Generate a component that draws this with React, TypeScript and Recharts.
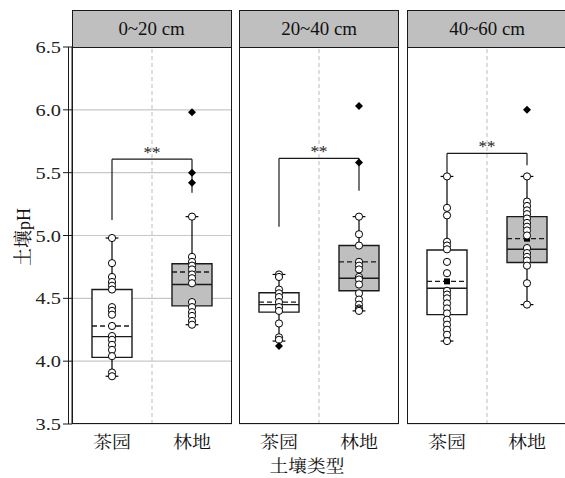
import React from 'react';
import { ComposedChart, XAxis, YAxis, CartesianGrid, Scatter, ReferenceArea, ReferenceLine } from 'recharts';

const FONT = "'Liberation Serif', 'Times New Roman', 'Noto Serif CJK SC', 'Noto Sans CJK SC', serif";

// ---- data ----
const depths = ['0~20 cm', '20~40 cm', '40~60 cm'];
const categories = ['茶园', '林地'];
const yTicks = [3.5, 4.0, 4.5, 5.0, 5.5, 6.0, 6.5];

// box statistics per depth: [茶园, 林地]
const whiskerLow = [[3.88, 4.29], [4.16, 4.40], [4.16, 4.45]];
const q1s = [[4.03, 4.44], [4.39, 4.56], [4.37, 4.785]];
const medians = [[4.195, 4.61], [4.45, 4.66], [4.58, 4.89]];
const q3s = [[4.57, 4.775], [4.545, 4.92], [4.885, 5.15]];
const whiskerHigh = [[4.98, 5.15], [4.69, 5.15], [5.47, 5.47]];
const means = [[4.28, 4.71], [4.47, 4.79], [4.635, 4.975]];

const teaPoints = [
  [4.98, 4.78, 4.67, 4.63, 4.60, 4.57, 4.43, 4.40, 4.37, 4.28, 4.20, 4.17, 4.13, 4.09, 4.04, 3.91, 3.88],
  [4.69, 4.67, 4.57, 4.54, 4.51, 4.47, 4.43, 4.40, 4.30, 4.19, 4.17],
  [5.47, 5.22, 5.16, 4.95, 4.92, 4.89, 4.79, 4.70, 4.56, 4.53, 4.50, 4.46, 4.42, 4.38, 4.33, 4.29, 4.25, 4.21, 4.16],
];
const forestPoints = [
  [5.15, 4.83, 4.79, 4.76, 4.73, 4.69, 4.66, 4.62, 4.47, 4.43, 4.39, 4.36, 4.32, 4.29],
  [5.15, 5.01, 4.92, 4.79, 4.76, 4.73, 4.67, 4.65, 4.61, 4.54, 4.49, 4.45, 4.42, 4.41, 4.40],
  [5.47, 5.27, 5.235, 5.20, 5.17, 5.135, 5.10, 5.07, 5.04, 5.00, 4.90, 4.86, 4.83, 4.80, 4.76, 4.62, 4.45],
];
const teaOutliers = [[], [4.12], []];
const forestOutliers = [[5.98, 5.50, 5.42], [6.03, 5.58], [6.00]];

const bracketTop = [5.607, 5.614, 5.654];
const bracketLeftEnd = [5.124, 5.07, 5.495];
const bracketRightEnd = [5.34, 5.357, 5.56];
const sigLabels = ['**', '**', '**'];

// ---- layout ----
const W = 565;
const H = 478;
const PANEL_LEFT = [72, 239, 407];
const PANEL_W = 160;
const PLOT_TOP = 47;
const PLOT_BOTTOM = 424;
const STRIP_TOP = 10;
const X_AXIS_H = 30;

const BOX_FILLS = ['#ffffff', '#bfbfbf'];

const CircleShape = (p: any) => (
  <circle cx={p.cx} cy={p.cy} r={3.6} fill="#ffffff" stroke="#000000" strokeWidth={1} />
);
const DiamondShape = (p: any) => {
  const s = 4;
  return (
    <polygon
      points={`${p.cx},${p.cy - s} ${p.cx + s},${p.cy} ${p.cx},${p.cy + s} ${p.cx - s},${p.cy}`}
      fill="#000000"
    />
  );
};
const SquareShape = (p: any) => (
  <rect x={p.cx - 3} y={p.cy - 3} width={6} height={6} fill="#000000" />
);
const SigShape = (p: any) => (
  <text x={p.cx} y={p.cy - 1} textAnchor="middle" fontSize={17} fontFamily={FONT} fill="#222">
    {p.payload.label}
  </text>
);

const YTick = (p: any) => (
  <text
    transform={`translate(${p.x},${p.y}) scale(1.2,1)`}
    textAnchor="end"
    dy="0.36em"
    fontSize={17}
    fontFamily={FONT}
    fill="#222"
  >
    {Number(p.payload.value).toFixed(1)}
  </text>
);

const XTick = (p: any) => (
  <text
    transform={`translate(${p.x},${p.y}) scale(1.12,1)`}
    textAnchor="middle"
    dy="0.95em"
    fontSize={17}
    fontFamily={FONT}
    fill="#111"
  >
    {categories[Math.round(p.payload.value) - 1]}
  </text>
);

function Panel({ idx }: { idx: number }) {
  const showY = idx === 0;
  const yW = showY ? 72 : 0;
  const left = PANEL_LEFT[idx] - yW;
  const els: any[] = [];

  [0, 1].forEach((c) => {
    const cx = c + 1;
    const lo = whiskerLow[idx][c];
    const hi = whiskerHigh[idx][c];
    const q1 = q1s[idx][c];
    const q3 = q3s[idx][c];
    const med = medians[idx][c];
    const mean = means[idx][c];
    els.push(
      <ReferenceLine key={`wu${c}`} segment={[{ x: cx, y: q3 }, { x: cx, y: hi }]} stroke="#000" strokeWidth={1.2} />,
      <ReferenceLine key={`wl${c}`} segment={[{ x: cx, y: lo }, { x: cx, y: q1 }]} stroke="#000" strokeWidth={1.2} />,
      <ReferenceLine key={`su${c}`} segment={[{ x: cx - 0.08, y: hi }, { x: cx + 0.08, y: hi }]} stroke="#000" strokeWidth={1.2} />,
      <ReferenceLine key={`sl${c}`} segment={[{ x: cx - 0.08, y: lo }, { x: cx + 0.08, y: lo }]} stroke="#000" strokeWidth={1.2} />,
      <ReferenceArea key={`b${c}`} x1={cx - 0.25} x2={cx + 0.25} y1={q1} y2={q3} fill={BOX_FILLS[c]} fillOpacity={1} stroke="#1a1a1a" strokeWidth={1.4} />,
      <ReferenceLine key={`m${c}`} segment={[{ x: cx - 0.25, y: med }, { x: cx + 0.25, y: med }]} stroke="#1a1a1a" strokeWidth={1.4} />,
      <ReferenceLine key={`mn${c}`} segment={[{ x: cx - 0.25, y: mean }, { x: cx + 0.25, y: mean }]} stroke="#1a1a1a" strokeWidth={1.4} strokeDasharray="5 3" />,
    );
  });

  const meanData = [0, 1].map((c) => ({ x: c + 1, y: means[idx][c] }));
  const teaData = teaPoints[idx].map((y) => ({ x: 1, y }));
  const forestData = forestPoints[idx].map((y) => ({ x: 2, y }));
  const outData = [
    ...teaOutliers[idx].map((y) => ({ x: 1, y })),
    ...forestOutliers[idx].map((y) => ({ x: 2, y })),
  ];
  const sigData = [{ x: 1.5, y: bracketTop[idx], label: sigLabels[idx] }];

  return (
    <div style={{ position: 'absolute', left, top: 0 }}>
      <ComposedChart
        width={yW + PANEL_W}
        height={H}
        margin={{ top: PLOT_TOP, right: 0, bottom: H - PLOT_BOTTOM - X_AXIS_H, left: 0 }}
      >
        <CartesianGrid horizontal vertical={false} stroke="#c8c8c8" strokeWidth={1.2} />
        <XAxis
          type="number"
          dataKey="x"
          domain={[0.5, 2.5]}
          ticks={[1, 2]}
          allowDataOverflow
          height={X_AXIS_H}
          axisLine={false}
          tickLine={false}
          tickSize={6}
          tick={<XTick />}
        />
        <YAxis
          type="number"
          dataKey="y"
          domain={[3.5, 6.5]}
          ticks={yTicks}
          allowDataOverflow
          width={yW}
          axisLine={showY ? { stroke: '#1a1a1a' } : false}
          tickLine={showY ? { stroke: '#1a1a1a' } : false}
          tickSize={9}
          tickMargin={2}
          tick={showY ? <YTick /> : false}
        />
        <ReferenceLine x={1.5} stroke="#bdbdbd" strokeWidth={1} strokeDasharray="4 3" />
        {els}
        <ReferenceLine segment={[{ x: 1, y: bracketLeftEnd[idx] }, { x: 1, y: bracketTop[idx] }]} stroke="#1a1a1a" strokeWidth={1.2} />
        <ReferenceLine segment={[{ x: 1, y: bracketTop[idx] }, { x: 2, y: bracketTop[idx] }]} stroke="#1a1a1a" strokeWidth={1.2} />
        <ReferenceLine segment={[{ x: 2, y: bracketTop[idx] }, { x: 2, y: bracketRightEnd[idx] }]} stroke="#1a1a1a" strokeWidth={1.2} />
        <Scatter data={meanData} dataKey="y" shape={SquareShape} isAnimationActive={false} />
        <Scatter data={teaData} dataKey="y" shape={CircleShape} isAnimationActive={false} />
        <Scatter data={forestData} dataKey="y" shape={CircleShape} isAnimationActive={false} />
        <Scatter data={outData} dataKey="y" shape={DiamondShape} isAnimationActive={false} />
        <Scatter data={sigData} dataKey="y" shape={SigShape} isAnimationActive={false} />
      </ComposedChart>
      {/* panel frame */}
      <div
        style={{
          position: 'absolute',
          left: yW,
          top: PLOT_TOP,
          width: PANEL_W,
          height: PLOT_BOTTOM - PLOT_TOP,
          border: '1.3px solid #1a1a1a',
          boxSizing: 'border-box',
          pointerEvents: 'none',
        }}
      />
      {/* strip */}
      <div
        style={{
          position: 'absolute',
          left: yW,
          top: STRIP_TOP,
          width: PANEL_W,
          height: PLOT_TOP - STRIP_TOP + 1,
          background: '#bfbfbf',
          border: '1.3px solid #1a1a1a',
          boxSizing: 'border-box',
          display: 'flex',
          alignItems: 'center',
          justifyContent: 'center',
          fontFamily: FONT,
          fontSize: 18,
          color: '#111',
        }}
      >
        <span style={{ display: 'inline-block', transform: 'scaleX(1.05)' }}>{depths[idx]}</span>
      </div>
    </div>
  );
}

export default function App() {
  return (
    <div
      style={{
        position: 'absolute',
        left: 0,
        top: 0,
        width: W,
        height: H,
        overflow: 'hidden',
        background: '#ffffff',
        fontFamily: FONT,
      }}
    >
      {[0, 1, 2].map((i) => (
        <Panel key={i} idx={i} />
      ))}
      {/* inner axis line */}
      <div style={{ position: 'absolute', left: 67.5, top: PLOT_TOP, width: 1, height: PLOT_BOTTOM - PLOT_TOP, background: '#1a1a1a' }} />
      <div
        style={{
          position: 'absolute',
          left: 21,
          top: 237,
          transform: 'translate(-50%, -50%) rotate(-90deg) scaleY(1.1)',
          fontSize: 18,
          color: '#111',
          whiteSpace: 'nowrap',
        }}
      >
        土壤pH
      </div>
      <div
        style={{
          position: 'absolute',
          left: 307,
          top: 464,
          transform: 'translate(-50%, -50%) scaleX(1.1)',
          fontSize: 17,
          color: '#111',
          whiteSpace: 'nowrap',
        }}
      >
        土壤类型
      </div>
    </div>
  );
}
